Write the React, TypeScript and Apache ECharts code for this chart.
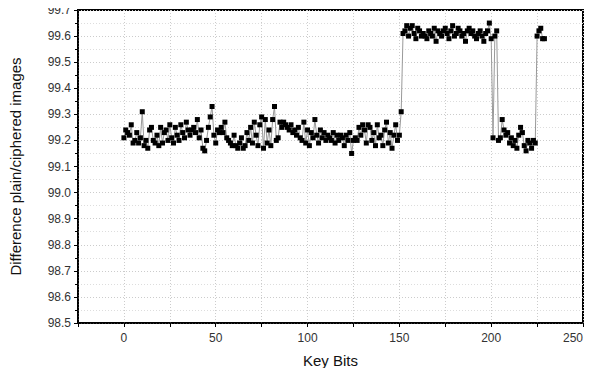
import React, { useEffect, useRef } from "react";
import * as echarts from "echarts";

const lowA: number[] = [
  99.21, 99.24, 99.23, 99.22, 99.26, 99.19, 99.20, 99.23, 99.19, 99.21,
  99.31, 99.18, 99.20, 99.17, 99.24, 99.25, 99.20, 99.19, 99.22, 99.18,
  99.25, 99.19, 99.23, 99.24, 99.20, 99.26, 99.21, 99.19, 99.25, 99.22,
  99.20, 99.26, 99.23, 99.21, 99.27, 99.24, 99.22, 99.24, 99.25, 99.23,
  99.28, 99.21, 99.24, 99.17, 99.16, 99.20, 99.25, 99.29, 99.33, 99.22,
  99.19, 99.24, 99.23, 99.25, 99.23, 99.27, 99.21, 99.20, 99.19, 99.18,
  99.22, 99.18, 99.17, 99.19, 99.21, 99.17, 99.18, 99.23, 99.20, 99.25,
  99.19, 99.27, 99.22, 99.18, 99.26, 99.29, 99.17, 99.28, 99.19, 99.24,
  99.18, 99.28, 99.33, 99.20, 99.21, 99.27, 99.25, 99.27, 99.26, 99.25,
  99.24, 99.26, 99.23, 99.24, 99.22, 99.25, 99.21, 99.20, 99.27, 99.19,
  99.24, 99.18, 99.23, 99.21, 99.28, 99.22, 99.19, 99.24, 99.21, 99.23,
  99.20, 99.22, 99.21, 99.20, 99.23, 99.19, 99.22, 99.20, 99.22, 99.21,
  99.18, 99.22, 99.20, 99.23, 99.15, 99.20, 99.21, 99.20, 99.25, 99.22,
  99.26, 99.24, 99.19, 99.26, 99.25, 99.20, 99.23, 99.18, 99.26, 99.21,
  99.22, 99.18, 99.24, 99.27, 99.19, 99.23, 99.17, 99.22, 99.26, 99.20,
  99.22, 99.31,
];
const highA: number[] = [
  99.61, 99.62, 99.64, 99.60, 99.63, 99.64, 99.61, 99.59, 99.63, 99.62, 99.60,
  99.61, 99.60, 99.59, 99.62, 99.61, 99.60, 99.63, 99.58, 99.62, 99.61,
  99.60, 99.62, 99.63, 99.61, 99.59, 99.62, 99.64, 99.60, 99.61, 99.63,
  99.62, 99.60, 99.61, 99.58, 99.62, 99.63, 99.61, 99.62, 99.60, 99.59,
  99.61, 99.62, 99.60, 99.58, 99.61, 99.62, 99.65, 99.59,
];
const dipA: number[] = [99.21, 99.60, 99.62];
const lowB: number[] = [
  99.20, 99.21, 99.28, 99.24, 99.22, 99.23, 99.19, 99.21, 99.18, 99.20,
  99.17, 99.22, 99.25, 99.23, 99.18, 99.16, 99.20, 99.19, 99.17, 99.20, 99.19,
];
const highB: number[] = [99.60, 99.62, 99.63, 99.59, 99.59];

const values: number[] = [...lowA, ...highA, ...dipA, ...lowB, ...highB];

export default function App() {
  const ref = useRef<HTMLDivElement>(null);
  useEffect(() => {
    if (!ref.current) return;
    const chart = echarts.init(ref.current, null, { renderer: "svg" });
    const data = values.map((v, i) => [i, v]);
    const font = "Liberation Sans, Arial, sans-serif";
    chart.setOption({
      animation: false,
      backgroundColor: "#fff",
      grid: {
        left: 77,
        right: 12,
        top: 10,
        bottom: 53,
        show: true,
        borderColor: "#000",
        borderWidth: 2,
        backgroundColor: "transparent",
      },
      xAxis: {
        type: "value",
        min: -25,
        max: 250,
        interval: 25,
        name: "Key Bits",
        nameLocation: "middle",
        nameGap: 30,
        nameTextStyle: { fontFamily: font, fontSize: 15, color: "#111" },
        axisLine: { show: true, onZero: false, lineStyle: { color: "#000", width: 1.5 } },
        axisTick: { show: true, length: 4, lineStyle: { color: "#000" } },
        axisLabel: {
          fontFamily: font,
          fontSize: 12,
          color: "#333",
          margin: 9,
          alignMaxLabel: "right",
          formatter: (v: number) => (Math.round(v) % 50 === 0 ? String(Math.round(v)) : ""),
        },
        splitLine: { show: true, lineStyle: { color: "#ccc", type: [1, 2], width: 1 } },
      },
      yAxis: {
        type: "value",
        min: 98.5,
        max: 99.7,
        interval: 0.1,
        name: "Difference plain/ciphered images",
        nameLocation: "middle",
        nameGap: 55,
        nameTextStyle: { fontFamily: font, fontSize: 15, color: "#111" },
        axisLine: { show: true, onZero: false, lineStyle: { color: "#000", width: 1.5 } },
        axisTick: { show: true, length: 4, lineStyle: { color: "#000" } },
        minorTick: { show: true, splitNumber: 2, length: 3, lineStyle: { color: "#000" } },
        axisLabel: {
          fontFamily: font,
          fontSize: 12,
          color: "#333",
          margin: 7,
          formatter: (v: number) => v.toFixed(1),
        },
        splitLine: { show: true, lineStyle: { color: "#ccc", type: [1, 2], width: 1 } },
        minorSplitLine: { show: true, lineStyle: { color: "#ddd", type: [1, 2], width: 1 } },
      },
      series: [
        {
          type: "line",
          data,
          symbol: "rect",
          symbolSize: 5,
          showAllSymbol: true,
          lineStyle: { color: "#999", width: 1 },
          itemStyle: { color: "#000" },
        },
      ],
    });
    return () => chart.dispose();
  }, []);
  return <div ref={ref} style={{ width: 595, height: 376, margin: -8 }} />;
}
